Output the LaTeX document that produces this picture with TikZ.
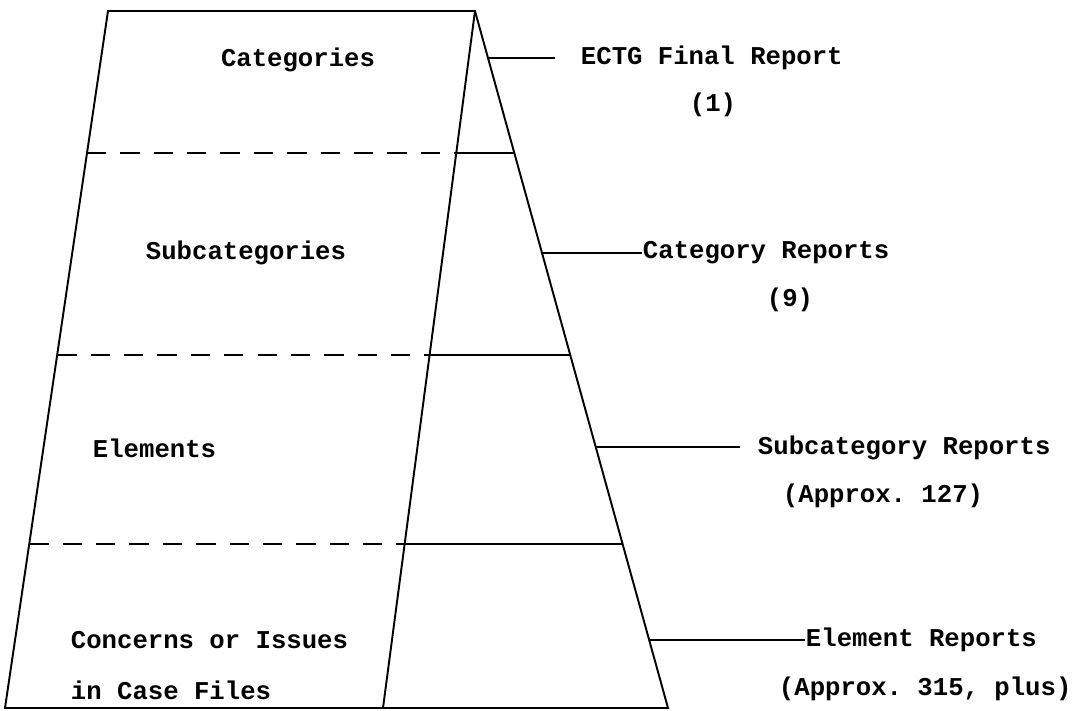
\documentclass[tikz,border=0pt]{standalone}
\usepackage{fontspec}
\setmonofont{Liberation Mono}
\usetikzlibrary{calc}

\begin{document}
\begin{tikzpicture}[x=0.02cm,y=-0.02cm,line width=1.1pt,
  lbl/.style={font=\ttfamily\bfseries\fontsize{14.6}{18}\selectfont,inner sep=0pt},
  lvl/.style={dash pattern=on 11pt off 8pt}]
\useasboundingbox (0,0) rectangle (1075,710);
\coordinate (TL) at (108,11);
\coordinate (T) at (475,11);
\coordinate (BL) at (5,708);
\coordinate (BI) at (383,708);
\coordinate (BR) at (668,708);
\draw (BL) -- (TL) -- (T) -- (BR) -- cycle;
\draw (T) -- (BI);
\foreach \f [count=\i] in {0.2043,0.4929,0.7643} {
  \coordinate (l\i) at ($(TL)!\f!(BL)$);
  \coordinate (m\i) at ($(T)!\f!(BI)$);
  \coordinate (r\i) at ($(T)!\f!(BR)$);
  \draw[lvl] (l\i) -- (m\i);
  \draw (m\i) -- (r\i);
}
\node[lbl] (cat) at (298,60) {Categories};
\node[lbl] (subcat) at (246,253) {Subcategories};
\node[lbl,anchor=west] (elem) at (92,448) {Elements};
\node[lbl,anchor=west] (conc) at (70,640) {Concerns or Issues};
\node[lbl,anchor=west] (case) at (70,690) {in Case Files};
\node[lbl,anchor=west] (final) at (580,58) {ECTG Final Report};
\node[lbl] (finaln) at (713,105) {(1)};
\node[lbl,anchor=west] (catrep) at (642,253) {Category Reports};
\node[lbl] (catrepn) at (790,300) {(9)};
\node[lbl,anchor=west] (subrep) at (757,448) {Subcategory Reports};
\node[lbl,anchor=west] (subrepn) at (782,496) {(Approx. 127)};
\node[lbl,anchor=west] (elemrep) at (805,640) {Element Reports};
\node[lbl,anchor=west] (elemrepn) at (778,689) {(Approx. 315, plus)};
\coordinate (e1) at ($(T)!0.0671!(BR)$);
\coordinate (e2) at ($(T)!0.3472!(BR)$);
\coordinate (e3) at ($(T)!0.6257!(BR)$);
\coordinate (e4) at ($(T)!0.9025!(BR)$);
\coordinate (f1) at (555,58);
\coordinate (f3) at (740,448);
\draw (e1) -- (e1 -| f1);
\draw (e2) -- (e2 -| catrep.west);
\draw (e3) -- (e3 -| f3);
\draw (e4) -- (e4 -| elemrep.west);
\end{tikzpicture}
\end{document}
